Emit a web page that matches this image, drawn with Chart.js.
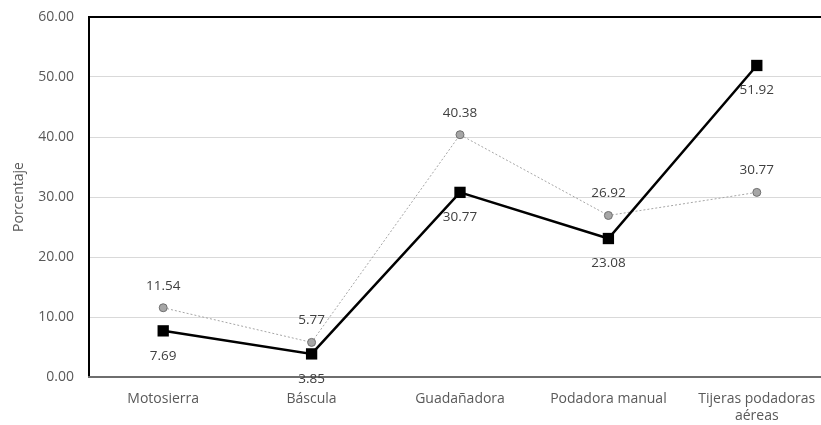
<!DOCTYPE html>
<html>
<head>
<meta charset="utf-8">
<script src="https://cdn.jsdelivr.net/npm/chart.js@4"></script>
<style>
  html, body { margin: 0; padding: 0; background: #fff; overflow: hidden; }
  #wrap { width: 821px; height: 425px; overflow: hidden; }
</style>
</head>
<body>
<div id="wrap"><canvas id="myChart" width="850" height="425"></canvas></div>
<script>
const categories = ['Motosierra', 'Báscula', 'Guadañadora', 'Podadora manual', ['Tijeras podadoras', 'aéreas']];
const seriesA = [7.69, 3.85, 30.77, 23.08, 51.92];
const seriesB = [11.54, 5.77, 40.38, 26.92, 30.77];
const yTicks = [0, 10, 20, 30, 40, 50, 60];

const FONT = "'Open Sans', sans-serif";

// draws value labels and the plot frame
const valueLabels = {
  id: 'valueLabels',
  beforeDatasetsDraw(chart) {
    const { ctx, chartArea: a } = chart;
    ctx.save();
    ctx.strokeStyle = '#000';
    ctx.lineWidth = 2;
    ctx.beginPath();
    ctx.moveTo(a.left, a.bottom);
    ctx.lineTo(a.left, a.top);
    ctx.lineTo(a.right, a.top);
    ctx.lineTo(a.right, a.bottom);
    ctx.stroke();
    ctx.strokeStyle = '#6e6e6e';
    ctx.beginPath();
    ctx.moveTo(a.left - 1, a.bottom);
    ctx.lineTo(a.right, a.bottom);
    ctx.stroke();
    ctx.restore();
  },
  afterDatasetsDraw(chart) {
    const { ctx } = chart;
    ctx.save();
    ctx.font = '13.5px ' + FONT;
    ctx.fillStyle = '#404040';
    ctx.textAlign = 'center';
    ctx.textBaseline = 'middle';
    chart.data.datasets.forEach((ds, i) => {
      const meta = chart.getDatasetMeta(i);
      meta.data.forEach((pt, j) => {
        const dy = i === 0 ? 25 : -22;
        ctx.fillText(ds.data[j].toFixed(2), pt.x, pt.y + dy);
      });
    });
    ctx.restore();
  }
};

const ctx = document.getElementById('myChart').getContext('2d');
new Chart(ctx, {
  type: 'line',
  data: {
    labels: categories,
    datasets: [{
      label: 'A',
      data: seriesA,
      borderColor: '#000',
      backgroundColor: '#000',
      borderWidth: 2.5,
      pointStyle: 'rect',
      pointRadius: 8,
      pointBorderWidth: 0,
      tension: 0
    }, {
      label: 'B',
      data: seriesB,
      borderColor: '#a6a6a6',
      backgroundColor: '#a6a6a6',
      borderWidth: 1,
      borderDash: [2, 2],
      pointStyle: 'circle',
      pointRadius: 4,
      pointBorderColor: '#707070',
      pointBorderWidth: 1,
      tension: 0
    }]
  },
  options: {
    responsive: false,
    animation: false,
    layout: { autoPadding: false, padding: { left: 0, top: 17, right: 19, bottom: 0 } },
    plugins: { legend: { display: false }, tooltip: { enabled: false } },
    scales: {
      x: {
        offset: true,
        grid: { display: false, drawTicks: false },
        border: { display: false },
        ticks: { color: '#595959', font: { family: FONT, size: 14 }, padding: 14, maxRotation: 0, autoSkip: false },
        afterFit(scale) { scale.height = 48; scale.paddingLeft = 0; scale.paddingRight = 0; }
      },
      y: {
        min: 0,
        max: 60,
        afterBuildTicks(scale) { scale.ticks = yTicks.map(v => ({ value: v })); },
        grid: { color: '#d9d9d9', drawTicks: false },
        border: { display: false },
        ticks: { color: '#595959', font: { family: FONT, size: 14 }, padding: 15, callback: v => Number(v).toFixed(2) },
        title: { display: true, text: 'Porcentaje', color: '#595959', font: { family: FONT, size: 14 }, padding: { top: 11, bottom: 0 } },
        afterFit(scale) { scale.width = 89; scale.paddingTop = 0; scale.paddingBottom = 0; }
      }
    }
  },
  plugins: [valueLabels]
});
</script>
</body>
</html>
